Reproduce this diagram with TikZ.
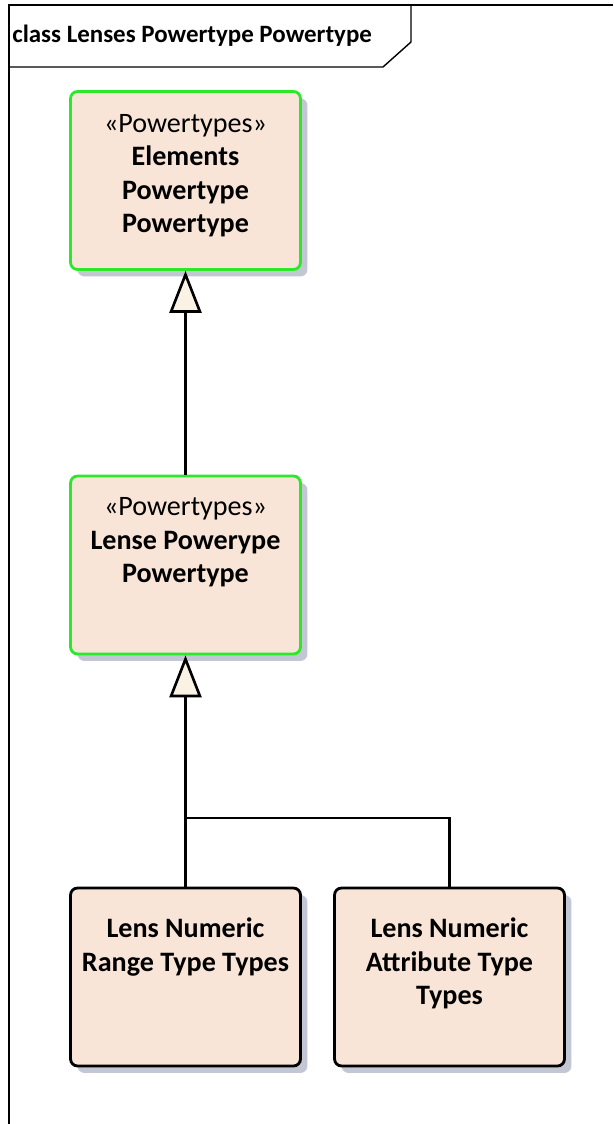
\documentclass[tikz,border=0pt]{standalone}
\usepackage{fontspec}
\setmainfont{Carlito}
\usepackage{tikz}
\usetikzlibrary{arrows.meta,positioning,shadows}
\definecolor{peach}{HTML}{F9E5D7}
\definecolor{lime}{HTML}{2BE82B}
\definecolor{shade}{HTML}{C3C7D3}
\definecolor{cream}{HTML}{FBF2E6}

\begin{document}
\begin{tikzpicture}[
  x=0.02cm, y=-0.02cm,
  umlbox/.style={draw=black, line width=1.6pt, rounded corners=4pt, fill=peach, minimum width=4.6cm, minimum height=3.56cm, drop shadow={fill=shade, opacity=1, shadow xshift=0.14cm, shadow yshift=-0.14cm}},
  powerbox/.style={umlbox, draw=lime},
  umltext/.style={anchor=north, inner sep=0pt, align=center, font=\fontsize{16}{19}\selectfont},
  genarrow/.style={-{Triangle[length=0.84cm, width=0.64cm, fill=cream]}, line width=1.5pt},
  link/.style={line width=1.5pt},
  frame/.style={line width=0.8pt}
]
  \useasboundingbox (0,0) rectangle (613,1124);

  % diagram frame
  \draw[frame] (9,1124) -- (9,5) -- (613,5);
  \draw[frame] (9,67) -- (383,67) -- (411,42) -- (411,5);
  \node[anchor=west, inner sep=0pt, font=\bfseries\fontsize{14.2}{16}\selectfont] (title) at (12,36) {class Lenses Powertype Powertype};

  % classes
  \node[powerbox] (elements) at (185.5,180.5) {};
  \node[umltext] (elementsname) at ([yshift=-0.48cm]elements.north) {«Powertypes»\\\textbf{Elements}\\\textbf{Powertype}\\\textbf{Powertype}};
  \node[powerbox] (lense) at (185.5,565) {};
  \node[umltext] (lensename) at ([yshift=-0.46cm]lense.north) {«Powertypes»\\\textbf{Lense Powerype}\\\textbf{Powertype}};
  \node[umlbox] (rangetype) at (185.5,977) {};
  \node[umltext] (rangename) at ([yshift=-0.62cm]rangetype.north) {\textbf{Lens Numeric}\\\textbf{Range Type Types}};
  \node[umlbox] (attrtype) at (449.5,977) {};
  \node[umltext] (attrname) at ([yshift=-0.62cm]attrtype.north) {\textbf{Lens Numeric}\\\textbf{Attribute Type}\\\textbf{Types}};

  % generalisations
  \draw[genarrow] (lense.north) -- (elements.south);
  \coordinate (fork) at (185.5,818);
  \draw[link] (rangetype.north) -- (fork);
  \draw[link] (attrtype.north) |- (fork);
  \draw[genarrow] (fork) -- (lense.south);
\end{tikzpicture}
\end{document}
